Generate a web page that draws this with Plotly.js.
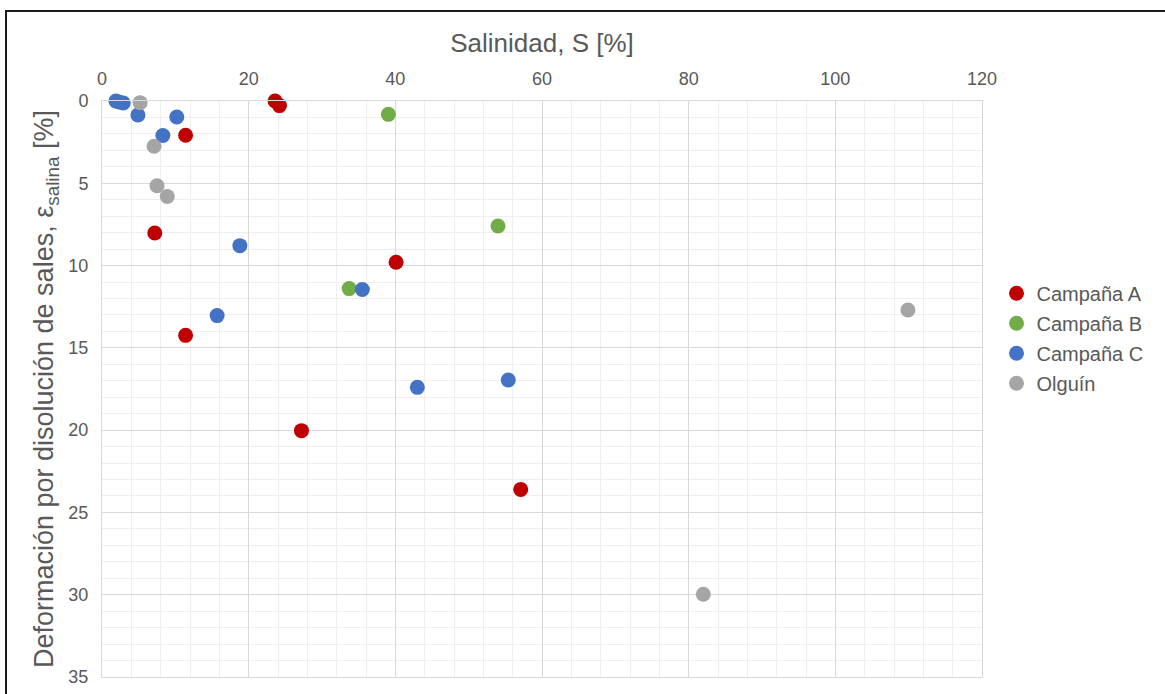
<!DOCTYPE html>
<html>
<head>
<meta charset="utf-8">
<script src="https://cdn.plot.ly/plotly-3.0.1.min.js"></script>
<style>
  html, body { margin: 0; padding: 0; background: #fff; }
  #chart { width: 1165px; height: 694px; }
  #frame { position: absolute; left: 5px; top: 10px; width: 1200px; height: 720px;
           border-top: 2px solid #1a1a1a; border-left: 2px solid #1a1a1a; pointer-events: none; }
</style>
</head>
<body>
<div id="chart"></div>
<div id="frame"></div>
<script>
// Salinidad S [%] (x) and deformación ε_salina [%] (y)
const campA_x = [23.6, 24.2, 11.4, 7.2, 40.1, 11.4, 27.2, 57.1];
const campA_y = [0.0, 0.28, 2.08, 8.02, 9.8, 14.24, 20.03, 23.6];

const campB_x = [39.05, 54.0, 33.7];
const campB_y = [0.81, 7.6, 11.4];

const campC_x = [1.9, 2.3, 2.9, 4.9, 10.2, 8.3, 18.8, 15.7, 35.5, 43.0, 55.4];
const campC_y = [0.0, 0.06, 0.12, 0.85, 0.97, 2.1, 8.79, 13.04, 11.45, 17.4, 16.95];

const olg_x = [5.2, 7.1, 7.5, 8.9, 82.0, 109.9];
const olg_y = [0.1, 2.75, 5.15, 5.8, 29.97, 12.7];

const names = ["Campaña A", "Campaña B", "Campaña C", "Olguín"];
const colors = ["#c00000", "#70ad47", "#4472c4", "#a5a5a5"];
const xs = [campA_x, campB_x, campC_x, olg_x];
const ys = [campA_y, campB_y, campC_y, olg_y];

const traces = names.map((n, i) => ({
  type: "scatter", mode: "markers", name: n, legendgroup: "g" + i,
  x: xs[i], y: ys[i],
  marker: { color: colors[i], size: 15 },
  cliponaxis: false
}));

const fontFam = "Liberation Sans, Arial, sans-serif";
const layout = {
  width: 1165, height: 694,
  margin: { l: 102, r: 183, t: 101, b: 17 },
  paper_bgcolor: "#ffffff", plot_bgcolor: "#ffffff",
  font: { family: fontFam, color: "#595959", size: 18 },
  showlegend: true,
  legend: { x: 1.0165, xanchor: "left", y: 0.70, yanchor: "top",
            font: { size: 20, color: "#595959" }, itemwidth: 30, tracegroupgap: 1 },
  xaxis: {
    side: "top", range: [0, 120], dtick: 20, tick0: 0,
    showgrid: true, gridcolor: "#d9d9d9", gridwidth: 1,
    minor: { dtick: 4, showgrid: true, gridcolor: "#eeeeee", gridwidth: 1 },
    showline: true, mirror: true, linecolor: "#d9d9d9", linewidth: 1,
    zeroline: false, ticks: "", ticklabelstandoff: 8,
    tickfont: { size: 18, color: "#595959" },
    title: { text: "Salinidad, S [%]", font: { size: 26, color: "#595959" }, standoff: 8 }
  },
  yaxis: {
    range: [35, 0], dtick: 5, tick0: 0,
    showgrid: true, gridcolor: "#d9d9d9", gridwidth: 1,
    minor: { dtick: 1, showgrid: true, gridcolor: "#eeeeee", gridwidth: 1 },
    showline: true, mirror: true, linecolor: "#d9d9d9", linewidth: 1,
    zeroline: false, ticks: "", ticklabelstandoff: 9,
    tickfont: { size: 18, color: "#595959" },
    title: { text: "Deformación por disolución de sales, ε<sub>salina</sub> [%]",
             font: { size: 27, color: "#595959" }, standoff: 6 }
  }
};

Plotly.newPlot("chart", traces, layout, { displayModeBar: false, staticPlot: true });
</script>
</body>
</html>
